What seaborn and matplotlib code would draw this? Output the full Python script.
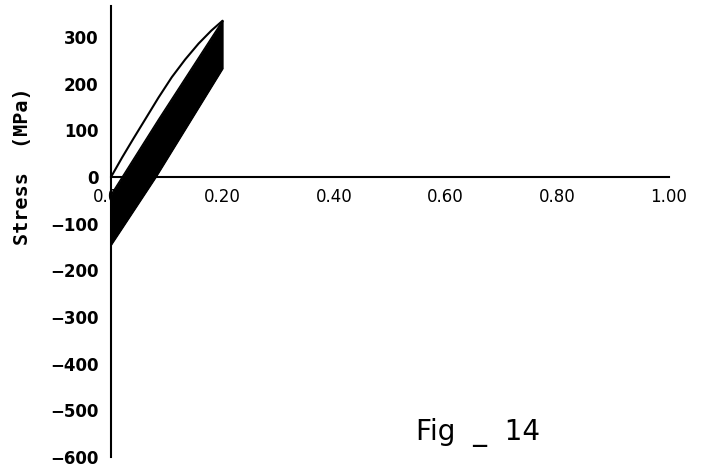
import matplotlib
matplotlib.use("Agg")
import matplotlib.pyplot as plt
import seaborn as sns
import numpy as np
import pandas as pd

# ---- data ----
load_strain = [0.0, 0.02, 0.04, 0.061, 0.085, 0.109, 0.133, 0.157, 0.18, 0.2]
load_stress = [0.0, 42, 82, 123, 170, 214, 252, 286, 314, 335]

band_strain = [0.0, 0.085, 0.2]
band_upper = [-38, 123, 335]
band_lower_strain = [0.0, 0.08, 0.2]
band_lower = [-145, 0, 233]

x_ticks = [0.0, 0.2, 0.4, 0.6, 0.8, 1.0]
x_tick_labels = ["0.00", "0.20", "0.40", "0.60", "0.80", "1.00"]
y_ticks = [300, 200, 100, 0, -100, -200, -300, -400, -500, -600]
y_label = "Stress  (MPa)"
fig_label = "Fig  _  14"

sns.set_style("white")
plt.rcParams['font.family'] = ['DejaVu Sans']
plt.rcParams['text.color'] = 'black'

fig = plt.figure(figsize=(7.07, 4.73), dpi=100)
ax = fig.add_axes([0.157, 0.0338, 0.789, 0.953])

df_load = pd.DataFrame({"strain": load_strain, "stress": load_stress})
sns.lineplot(data=df_load, x="strain", y="stress", ax=ax, color="black",
             linewidth=1.5, sort=False, zorder=4)

# cyclic band (dense unloading/reloading cycles) drawn as filled region
xs = np.linspace(0, 0.2, 200)
up = np.interp(xs, band_strain, band_upper)
lo = np.interp(xs, band_lower_strain, band_lower)
df_up = pd.DataFrame({"strain": band_strain, "stress": band_upper})
df_lo = pd.DataFrame({"strain": band_lower_strain, "stress": band_lower})
sns.lineplot(data=df_up, x="strain", y="stress", ax=ax, color="black", linewidth=1.0, zorder=3)
sns.lineplot(data=df_lo, x="strain", y="stress", ax=ax, color="black", linewidth=1.0, zorder=3)
ax.fill_between(xs, lo, up, color="black", linewidth=0.8, edgecolor="black", zorder=3)

ax.set_xlim(0, 1.0)
ax.set_ylim(-600, 366)

for s in ["top", "right"]:
    ax.spines[s].set_visible(False)
ax.spines["bottom"].set_position(("data", 0))
for s in ["left", "bottom"]:
    ax.spines[s].set_linewidth(1.5)
    ax.spines[s].set_color("black")

ax.set_xticks(x_ticks)
ax.set_xticklabels(x_tick_labels)
ax.set_yticks(y_ticks)
ax.set_yticklabels([f"{v}".replace("-", "\u2212") for v in y_ticks],
                   fontweight="bold")
ax.tick_params(axis="x", direction="out", length=5, width=1.5, pad=3,
               labelsize=12, colors="black")
ax.tick_params(axis="y", direction="out", length=7, width=1.5, pad=2,
               labelsize=12, colors="black")

ax.set_xlabel("")
ax.set_ylabel(y_label, fontsize=14.5, fontweight="bold",
              family="DejaVu Sans Mono", color="black")
ax.yaxis.set_label_coords(-0.1416, 0.645)

fig.text(0.589, 0.070, fig_label, fontsize=20, va="baseline", ha="left",
         color="black")

fig.savefig("out.png", dpi=100)
